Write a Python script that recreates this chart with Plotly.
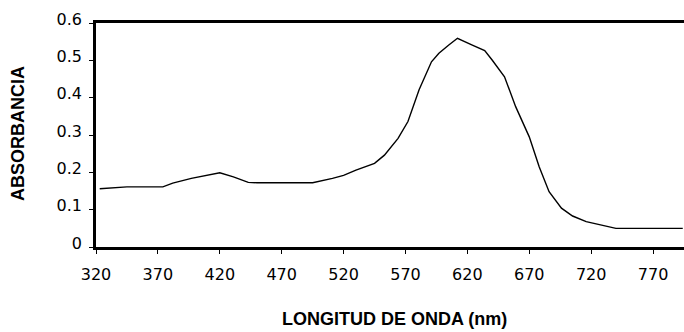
import plotly.graph_objects as go

wavelength = [323, 345, 374, 382, 397, 409, 420, 431, 443, 450, 495, 511, 520, 530, 545, 553,
              564, 572, 581, 591, 597, 605, 612, 624, 634, 640, 650, 659, 670, 678, 686, 696,
              705, 716, 729, 740, 794]
absorbance = [0.156, 0.161, 0.161, 0.171, 0.184, 0.191, 0.199, 0.188, 0.173, 0.172, 0.172, 0.184,
              0.192, 0.206, 0.224, 0.246, 0.291, 0.336, 0.421, 0.496, 0.519, 0.541, 0.559, 0.541,
              0.526, 0.501, 0.456, 0.376, 0.295, 0.215, 0.148, 0.104, 0.083, 0.068, 0.059, 0.050,
              0.050]
x_ticks = [320, 370, 420, 470, 520, 570, 620, 670, 720, 770]
y_ticks = [0, 0.1, 0.2, 0.3, 0.4, 0.5, 0.6]
y_tick_labels = ["0", "0.1", "0.2", "0.3", "0.4", "0.5", "0.6"]

fig = go.Figure()
fig.add_trace(go.Scatter(x=wavelength, y=absorbance, mode="lines",
                         line=dict(color="black", width=1.4), showlegend=False))

tickfont = dict(family="DejaVu Sans", size=16, color="black")
fig.update_layout(
    width=684, height=332,
    margin=dict(l=96, r=0, t=23, b=85),
    paper_bgcolor="white", plot_bgcolor="white",
    xaxis=dict(range=[320, 795], tickvals=x_ticks, ticks="outside", ticklen=4,
               tickcolor="black", showline=True, linecolor="black", linewidth=2.5,
               mirror=True, showgrid=False, zeroline=False, tickfont=tickfont,
               ticklabelstandoff=7),
    yaxis=dict(range=[0, 0.6], tickvals=y_ticks, ticktext=y_tick_labels, ticks="outside",
               ticklen=4, tickcolor="black", showline=True, linecolor="black", linewidth=2.5,
               showgrid=False, zeroline=False, tickfont=tickfont, ticklabelstandoff=4,
               ticklabelshift=-4),
    annotations=[
        dict(text="<b>LONGITUD DE ONDA (nm)</b>", x=394, y=319, showarrow=False,
             font=dict(family="Liberation Sans", size=18, color="black")),
        dict(text="<b>ABSORBANCIA</b>", x=18, y=134, textangle=-90, showarrow=False,
             font=dict(family="Liberation Sans", size=18, color="black")),
    ],
)
# convert pixel positions of annotations into paper coordinates
W, H = 684, 332
l, r, t, b = 96, 0, 23, 85
pw, ph = W - l - r, H - t - b
for ann in fig.layout.annotations:
    px, py = ann.x, ann.y
    ann.x = (px - l) / pw
    ann.y = (H - b - py) / ph
    ann.xref = "paper"
    ann.yref = "paper"
    ann.xanchor = "center"
    ann.yanchor = "middle"

fig.write_html("out.html")
